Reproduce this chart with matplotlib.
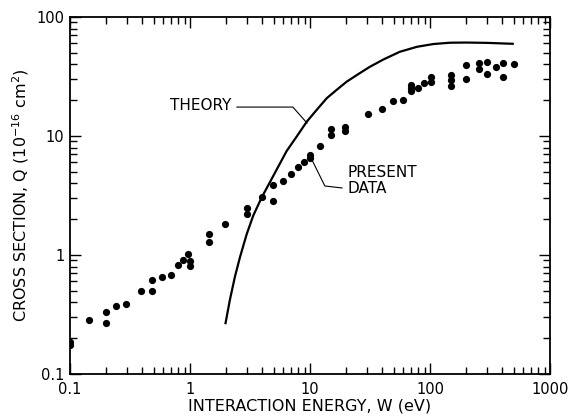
import numpy as np
import matplotlib
matplotlib.use("Agg")
import matplotlib.pyplot as plt

# measured cross sections (energy in eV, Q in 1e-16 cm^2)
data_w = [0.1, 0.1, 0.145, 0.2, 0.2, 0.243, 0.295, 0.39, 0.48, 0.48, 0.585, 0.695,
          0.795, 0.88, 0.97, 1.0, 1.0, 1.45, 1.45, 1.97, 2.97, 2.97, 3.98, 4.95, 4.95,
          6.0, 7.0, 7.9, 8.9, 10.0, 10.0, 12.0, 15.0, 15.0, 19.7, 19.7, 30.2, 40.0,
          49.5, 59.6, 69.5, 69.5, 69.5, 78.9, 89.7, 101, 101, 150, 150, 150, 200, 200,
          256, 256, 300, 300, 355, 408, 408, 501]
data_q = [0.186, 0.175, 0.282, 0.334, 0.267, 0.373, 0.387, 0.498, 0.613, 0.50, 0.653, 0.679,
          0.818, 0.912, 1.02, 0.89, 0.81, 1.49, 1.28, 1.81, 2.47, 2.21, 3.09, 3.87, 2.84,
          4.17, 4.82, 5.52, 6.01, 6.9, 6.5, 8.28, 11.4, 10.2, 11.97, 11.1, 15.3, 16.7,
          19.8, 20.2, 26.7, 25.1, 23.9, 25.1, 27.7, 31.1, 28.6, 32.6, 29.6, 26.3, 39.3, 29.9,
          40.8, 36.6, 42.1, 33.2, 37.8, 41.0, 31.1, 40.5]

# theory curve
theory_w = [1.97, 2.15, 2.37, 2.61, 2.97, 3.37, 3.96, 4.64, 5.5, 6.4, 7.8, 9.4, 11.5,
            13.8, 16.5, 20.2, 25.0, 31.6, 41.0, 56.0, 78.0, 107, 147, 200, 300, 500]
theory_q = [0.262, 0.42, 0.66, 0.96, 1.5, 2.15, 3.05, 4.1, 5.65, 7.5, 10.0, 13.2, 16.8,
            20.8, 24.2, 28.6, 32.9, 38.2, 44.0, 51.0, 56.2, 59.3, 60.8, 61.0, 60.6, 59.5]

# label leader lines (data coords)
theory_leader_w = [2.46, 7.2, 9.44]
theory_leader_q = [17.5, 17.5, 12.85]
data_leader_w = [10.4, 13.3, 18.5]
data_leader_q = [6.28, 3.8, 3.66]

xticks = [0.1, 1, 10, 100, 1000]
xticklabels = ["0.1", "1", "10", "100", "1000"]
yticks = [0.1, 1, 10, 100]
yticklabels = ["0.1", "1", "10", "100"]

plt.rcParams["font.family"] = ["DejaVu Sans"]

fig = plt.figure(figsize=(5.73, 4.18), dpi=100)
ax = fig.add_axes([70 / 573, 44 / 418, 480 / 573, 357 / 418])

ax.plot(theory_w, theory_q, color="black", lw=1.6, solid_capstyle="butt",
        solid_joinstyle="round")
ax.plot(data_w, data_q, "o", color="black", ms=5.2, mew=0)

ax.plot(theory_leader_w, theory_leader_q, color="black", lw=0.8)
ax.plot(data_leader_w, data_leader_q, color="black", lw=0.8)
ax.text(0.68, 17.9, "THEORY", fontsize=11, va="center", ha="left")
ax.text(20.7, 4.89, "PRESENT", fontsize=11, va="center", ha="left")
ax.text(20.7, 3.62, "DATA", fontsize=11, va="center", ha="left")

ax.set_xscale("log")
ax.set_yscale("log")
ax.set_xlim(0.1, 1000)
ax.set_ylim(0.1, 100)
ax.set_xticks(xticks)
ax.set_xticklabels(xticklabels)
ax.set_yticks(yticks)
ax.set_yticklabels(yticklabels)

ax.tick_params(which="both", direction="in", top=True, right=True, width=1, labelsize=10.5)
ax.tick_params(which="major", length=8)
ax.tick_params(which="minor", length=5)
ax.tick_params(axis="x", which="major", pad=6)
ax.tick_params(axis="y", which="major", pad=4)
for s in ax.spines.values():
    s.set_linewidth(1.3)

ax.set_xlabel("INTERACTION ENERGY, W (eV)", fontsize=11.5, labelpad=1)
ax.set_ylabel("CROSS SECTION, Q (10$^{-16}$ cm$^2$)", fontsize=11.5, labelpad=4)

fig.savefig("out.png", dpi=100)
